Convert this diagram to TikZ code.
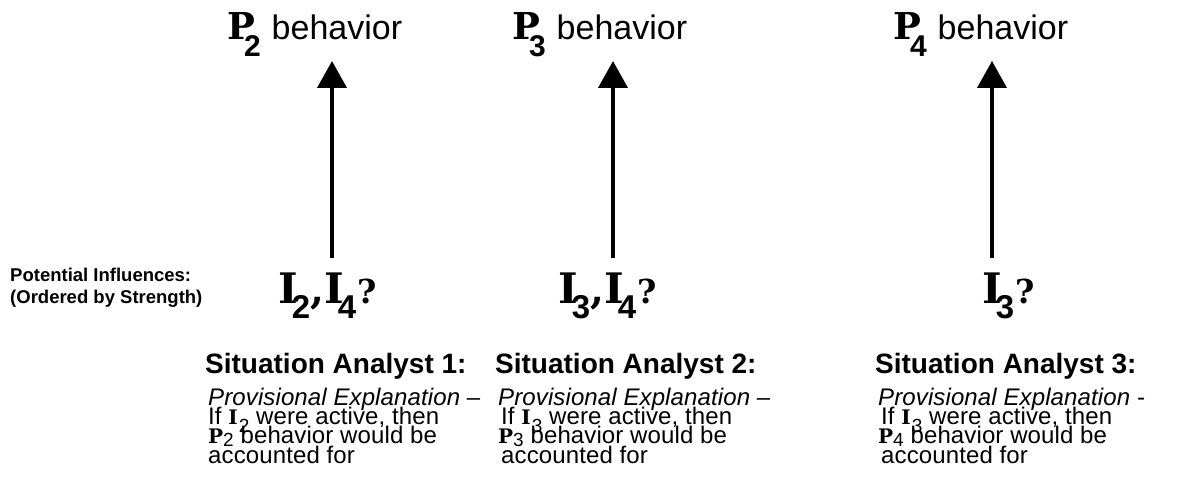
\documentclass[tikz,border=0pt]{standalone}
\usepackage{fontspec}
\setmainfont{Liberation Sans}
\newfontfamily\serifbf{DejaVu Serif}
\newfontfamily\bodyfont{Liberation Sans}[LetterSpace=0.5]
\usetikzlibrary{arrows.meta}
% helpers
\newcommand\titleP[1]{{\serifbf\bfseries\fontsize{37}{37}\selectfont P}\kern-11pt\raisebox{-17pt}{\bfseries\fontsize{30}{30}\selectfont #1}\hspace{11pt}}
\newcommand\bigI[1]{{\serifbf\bfseries\fontsize{42}{42}\selectfont I}\kern-6pt\raisebox{-15pt}{\bfseries\fontsize{33}{33}\selectfont #1}}
\newcommand\bigcomma{{\serifbf\bfseries\fontsize{40}{40}\selectfont ,}}
\newcommand\bigq{{\serifbf\bfseries\fontsize{33}{33}\selectfont ?}}
\newcommand\smI[1]{{\serifbf\bfseries\fontsize{20}{20}\selectfont I}\kern1pt\raisebox{-8pt}{\fontsize{19}{19}\selectfont #1}}
\newcommand\smP[1]{{\serifbf\bfseries\fontsize{20}{20}\selectfont P}\raisebox{-3pt}{\fontsize{19}{19}\selectfont #1}}
\tikzset{
  txt/.style={inner sep=0pt, anchor=base west},
  ttl/.style={txt, font=\fontsize{34}{34}\selectfont},
  infl/.style={txt},
  sa/.style={txt, font=\bfseries\fontsize{28}{28}\selectfont},
  body/.style={txt, text height=15pt, text depth=2pt, font=\bodyfont\fontsize{24}{24}\selectfont},
  potl/.style={txt, font=\bfseries\fontsize{18.5}{18.5}\selectfont},
  uparrow/.style={line width=4pt, -{Triangle[length=27pt,width=29pt]}},
}
\begin{document}
\begin{tikzpicture}[x=1pt,y=-1pt]
\fill[white] (0,0) rectangle (1202,489);
\useasboundingbox (0,0) rectangle (1202,489);

% titles
\node[ttl] (t1) at (227,40) {\titleP{2}behavior};
\node[ttl] (t2) at (512,40) {\titleP{3}behavior};
\node[ttl] (t3) at (893,40) {\titleP{4}behavior};

% influences
\node[potl] (pot1) at (10,281) {Potential Influences:};
\node[potl] (pot2) at (10,303) {(Ordered by Strength)};
\node[infl] (i1) at (278,303) {\bigI{2}\bigcomma\bigI{4}\,\bigq};
\node[infl] (i2) at (558,303) {\bigI{3}\bigcomma\bigI{4}\,\bigq};
\node[infl] (i3) at (982,303) {\bigI{3}\,\bigq};

% arrows
\coordinate (a1s) at (332,258); \coordinate (a1e) at (332,61);
\coordinate (a2s) at (613,258); \coordinate (a2e) at (613,61);
\coordinate (a3s) at (992,258); \coordinate (a3e) at (992,61);
\draw[uparrow] (a1s) -- (a1e);
\draw[uparrow] (a2s) -- (a2e);
\draw[uparrow] (a3s) -- (a3e);

% situation analysts
\node[sa] (s1) at (205,373) {Situation Analyst 1:};
\node[sa] (s2) at (495,373) {Situation Analyst 2:};
\node[sa] (s3) at (875,373) {Situation Analyst 3:};

% explanations
\node[body] (e1a) at (208,405) {\itshape Provisional Explanation –};
\node[body] (e1b) at (208,424) {If \smI{2} were active, then};
\node[body] (e1c) at (208,443) {\smP{2} behavior would be};
\node[body] (e1d) at (208,463) {accounted for};

\node[body] (e2a) at (498,405) {\itshape Provisional Explanation –};
\node[body] (e2b) at (501,424) {If \smI{3} were active, then};
\node[body] (e2c) at (498,443) {\smP{3} behavior would be};
\node[body] (e2d) at (501,463) {accounted for};

\node[body] (e3a) at (878,405) {\itshape Provisional Explanation -};
\node[body] (e3b) at (881,424) {If \smI{3} were active, then};
\node[body] (e3c) at (878,443) {\smP{4} behavior would be};
\node[body] (e3d) at (881,463) {accounted for};
\end{tikzpicture}
\end{document}
